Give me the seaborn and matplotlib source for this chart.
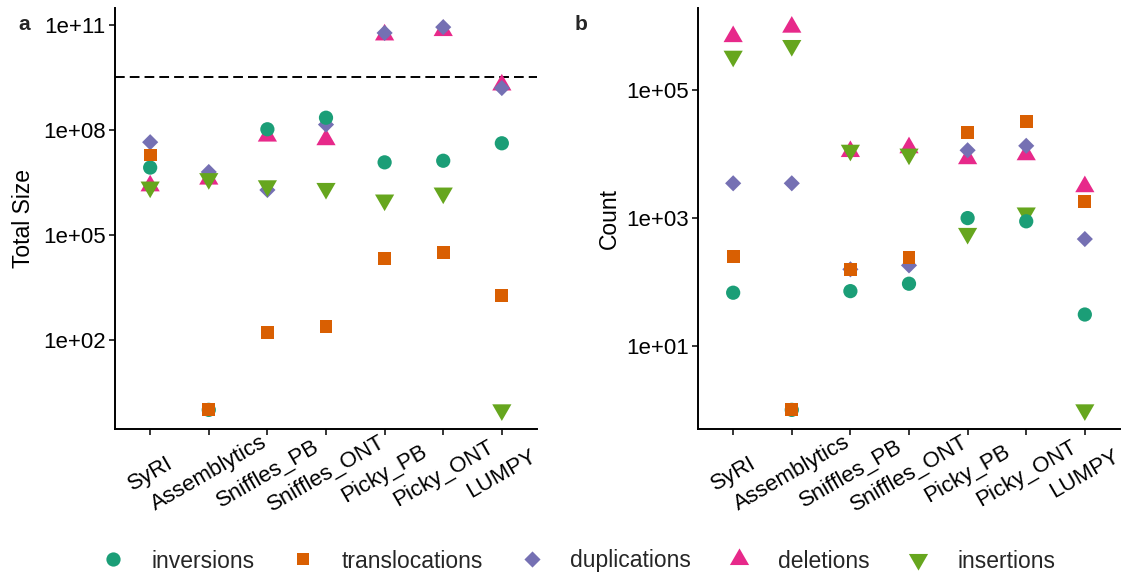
import matplotlib
matplotlib.use("Agg")
import numpy as np
import pandas as pd
import seaborn as sns
import matplotlib.pyplot as plt
from matplotlib.path import Path
from matplotlib.markers import MarkerStyle
from matplotlib.lines import Line2D

# ---------------- data ----------------
tools = ["SyRI", "Assemblytics", "Sniffles_PB", "Sniffles_ONT", "Picky_PB", "Picky_ONT", "LUMPY"]
sv_types = ["inversions", "translocations", "duplications", "deletions", "insertions"]

# panel a: total size
size_inversions     = [8.3e6, 1, 1.03e8, 2.2e8, 1.17e7, 1.3e7, 4.1e7]
size_translocations = [1.9e7, 1, 160, 245, 2.1e4, 3.1e4, 1.8e3]
size_duplications   = [4.4e7, 6.2e6, 1.9e6, 1.4e8, 5.8e10, 8.5e10, 1.55e9]
size_deletions      = [2.5e6, 3.9e6, 6.6e7, 5.2e7, 5.1e10, 6.8e10, 1.9e9]
size_insertions     = [2.3e6, 4.0e6, 2.5e6, 2.1e6, 9.8e5, 1.55e6, 1]
genome_size = 3.1e9

# panel b: count
count_inversions     = [68, 1, 72, 94, 1.0e3, 890, 31]
count_translocations = [250, 1, 155, 245, 2.2e4, 3.2e4, 1.8e3]
count_duplications   = [3.5e3, 3.5e3, 158, 182, 1.15e4, 1.35e4, 470]
count_deletions      = [6.9e5, 9.7e5, 1.1e4, 1.26e4, 8.5e3, 9.8e3, 3.1e3]
count_insertions     = [3.4e5, 5.0e5, 1.15e4, 1.0e4, 575, 1.2e3, 1]

yticks_a = [1e2, 1e5, 1e8, 1e11]
ylabels_a = ["1e+02", "1e+05", "1e+08", "1e+11"]
yticks_b = [1e1, 1e3, 1e5]
ylabels_b = ["1e+01", "1e+03", "1e+05"]

colors = {"inversions": "#1B9E77", "translocations": "#D95F02",
          "duplications": "#7570B3", "deletions": "#E7298A", "insertions": "#66A61E"}

tri_up = MarkerStyle(Path([(0, 1.1547), (1, -0.5774), (-1, -0.5774), (0, 1.1547)],
                          [Path.MOVETO, Path.LINETO, Path.LINETO, Path.CLOSEPOLY]))
tri_dn = MarkerStyle(Path([(0, -1.1547), (1, 0.5774), (-1, 0.5774), (0, -1.1547)],
                          [Path.MOVETO, Path.LINETO, Path.LINETO, Path.CLOSEPOLY]))
diamond = MarkerStyle(Path([(0, 1), (1, 0), (0, -1), (-1, 0), (0, 1)],
                           [Path.MOVETO, Path.LINETO, Path.LINETO, Path.LINETO, Path.CLOSEPOLY]))
markers = {"inversions": MarkerStyle("o"), "translocations": MarkerStyle("s"),
           "duplications": diamond, "deletions": tri_up, "insertions": tri_dn}
sizes = {"inversions": 105, "translocations": 85, "duplications": 135,
         "deletions": 255, "insertions": 255}


def make_df(vals):
    rows = []
    for t, v in zip(sv_types, vals):
        for tool, x in zip(tools, v):
            rows.append((tool, t, x))
    df = pd.DataFrame(rows, columns=["tool", "type", "value"])
    df["tool"] = pd.Categorical(df["tool"], categories=tools, ordered=True)
    # draw order: alphabetical by type (as in the original)
    df = df.sort_values("type", kind="stable").reset_index(drop=True)
    return df


df_a = make_df([size_inversions, size_translocations, size_duplications, size_deletions, size_insertions])
df_b = make_df([count_inversions, count_translocations, count_duplications, count_deletions, count_insertions])

# ---------------- figure ----------------
sns.set_theme(style="ticks")
plt.rcParams["font.family"] = ["Liberation Sans", "DejaVu Sans"]
plt.rcParams["axes.linewidth"] = 1.4

fig = plt.figure(figsize=(11.25, 5.77), dpi=100)
ax_a = fig.add_axes([115 / 1125, 148 / 577, 422 / 1125, 421 / 577])
ax_b = fig.add_axes([698 / 1125, 148 / 577, 422 / 1125, 421 / 577])


def draw(ax, df, ylabel, yt, yl, label_x):
    sns.scatterplot(data=df, x="tool", y="value", hue="type", style="type", size="type",
                    palette=colors, markers=markers, sizes=sizes, linewidth=0,
                    legend=False, ax=ax, zorder=3)
    ax.set_yscale("log")
    lo, hi = np.log10(df["value"].min()), np.log10(df["value"].max())
    pad = 0.05 * (hi - lo)
    ax.set_ylim(10 ** (lo - pad), 10 ** (hi + pad))
    ax.set_xlim(-0.6, len(tools) - 0.4)
    ax.yaxis.set_major_locator(matplotlib.ticker.FixedLocator(yt))
    ax.yaxis.set_minor_locator(matplotlib.ticker.NullLocator())
    ax.set_yticks(yt)
    ax.set_yticklabels(yl)
    ax.set_xticks(range(len(tools)))
    ax.set_xticklabels(tools, rotation=30, ha="center", va="center", rotation_mode="anchor")
    ax.set_xlabel("")
    ax.set_ylabel(ylabel, fontsize=16.5, color="black")
    ax.yaxis.set_label_coords(label_x, 0.5)
    ax.tick_params(axis="both", which="major", direction="out", length=4.3, width=1.1,
                   color="black", labelsize=16, labelcolor="black")
    ax.tick_params(axis="y", pad=2.5)
    ax.tick_params(axis="x", pad=28)
    for s in ["left", "bottom"]:
        ax.spines[s].set_color("black")
        ax.spines[s].set_linewidth(1.4)
    sns.despine(ax=ax)


draw(ax_a, df_a, "Total Size", yticks_a, ylabels_a, -0.19)
draw(ax_b, df_b, "Count", yticks_b, ylabels_b, -0.183)
ax_a.axhline(genome_size, color="black", linestyle=(0, (5, 2.6)), linewidth=1.4, zorder=2)

fig.text(18 / 1125, 1 - 30 / 577, "a", fontsize=15, fontweight="bold", va="baseline", ha="left")
fig.text(575 / 1125, 1 - 30 / 577, "b", fontsize=15, fontweight="bold", va="baseline", ha="left")

handles = [Line2D([], [], linestyle="", marker=markers[t], color=colors[t],
                  markersize=np.sqrt(sizes[t]), markeredgewidth=0) for t in sv_types]
fig.legend(handles, sv_types, loc="center", bbox_to_anchor=(0.514, 1 - 561 / 577),
           ncol=5, frameon=False, fontsize=16.5, handlelength=1.0, handletextpad=1.2,
           columnspacing=1.6, borderaxespad=0, borderpad=0)

fig.savefig("out.png", dpi=100)
